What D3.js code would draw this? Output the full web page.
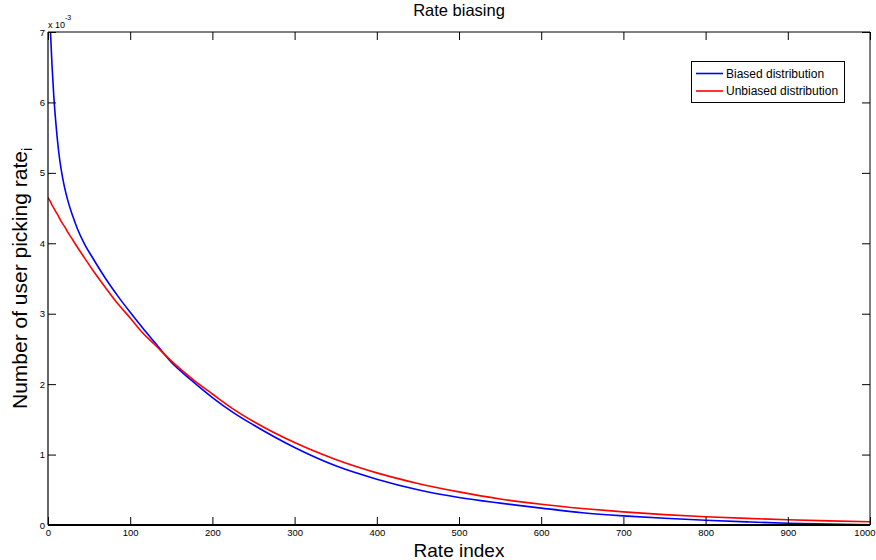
<!DOCTYPE html>
<html>
<head>
<meta charset="utf-8">
<script src="https://cdn.jsdelivr.net/npm/d3@7"></script>
<style>
  html, body { margin: 0; padding: 0; background: #fff; }
  svg { display: block; font-family: "Liberation Sans", Arial, Helvetica, sans-serif; }
</style>
</head>
<body>
<svg id="chart" width="876" height="560"></svg>
<script>
// ---- data (values in units of 1e-3) ----
const rateIndex = [0, 1, 2, 3, 5, 7, 10, 13, 16, 20, 25, 30, 36, 44, 55, 70, 85, 100, 115, 130, 150, 175, 200, 225, 250,
                   300, 350, 400, 450, 500, 550, 600, 650, 700, 750, 800, 850, 900, 950, 1000];
const biased = [8.6, 7.7, 7.3, 7.0, 6.5, 6.1, 5.65, 5.3, 5.05, 4.8, 4.57, 4.39, 4.2, 4.0, 3.78, 3.5, 3.25, 3.02, 2.8, 2.59,
                2.31, 2.05, 1.81, 1.6, 1.42, 1.1, 0.84, 0.65, 0.5, 0.39, 0.31, 0.24, 0.175, 0.13, 0.095, 0.068, 0.045, 0.025, 0.012, 0.004];
const unbiased = [4.65, 4.63, 4.61, 4.59, 4.54, 4.5, 4.44, 4.38, 4.31, 4.24, 4.14, 4.05, 3.94, 3.8, 3.61, 3.37, 3.14, 2.94, 2.73, 2.56,
                  2.33, 2.08, 1.86, 1.65, 1.47, 1.17, 0.93, 0.74, 0.59, 0.47, 0.37, 0.295, 0.235, 0.186, 0.148, 0.118, 0.094, 0.074, 0.059, 0.047];
const xTicks = [0, 100, 200, 300, 400, 500, 600, 700, 800, 900, 1000];
const yTicks = [0, 1, 2, 3, 4, 5, 6, 7];
const seriesNames = ["Biased distribution", "Unbiased distribution"];
const seriesColors = ["#0000ff", "#ff0000"];
const titleText = "Rate biasing";
const xLabelText = "Rate index";
const yLabelText = "Number of user picking rate";
const yLabelSub = "i";

// ---- layout ----
const svg = d3.select("#chart");
const L = 48, R = 870, T = 32, B = 525;
const x = d3.scaleLinear().domain([0, 1000]).range([L, R]);
const y = d3.scaleLinear().domain([0, 7]).range([B, T]);

const defs = svg.append("defs");
defs.append("clipPath").attr("id", "plotclip")
  .append("rect").attr("x", L).attr("y", T).attr("width", R - L).attr("height", B - T);

// series
const series = [biased, unbiased];
const line = d3.line().x(d => x(d[0])).y(d => y(d[1])).curve(d3.curveMonotoneX);
const g = svg.append("g").attr("clip-path", "url(#plotclip)");
series.forEach((vals, i) => {
  g.append("path")
    .datum(rateIndex.map((r, k) => [r, vals[k]]))
    .attr("fill", "none")
    .attr("stroke", seriesColors[i])
    .attr("stroke-width", 1.6)
    .attr("d", line);
});

// axes (MATLAB style box with inward ticks)
const tickLen = 8;
const axBottom = d3.axisBottom(x).tickValues(xTicks).tickSize(-tickLen).tickPadding(4).tickFormat(d3.format("d"));
const axTop = d3.axisTop(x).tickValues(xTicks).tickSize(-tickLen).tickFormat("");
const axLeft = d3.axisLeft(y).tickValues(yTicks).tickSize(-tickLen).tickPadding(3).tickFormat(d3.format("d"));
const axRight = d3.axisRight(y).tickValues(yTicks).tickSize(-tickLen).tickFormat("");

function style(sel) {
  sel.select(".domain").remove();
  sel.selectAll(".tick line").attr("stroke", "#000").attr("stroke-width", 1);
  sel.selectAll(".tick text").attr("fill", "#000").style("font-size", "9.5px");
}
const gb = svg.append("g").attr("transform", `translate(0,${B})`).call(axBottom).call(style);
// keep the last label inside the window
gb.selectAll(".tick text").filter(d => d === 1000).attr("text-anchor", "end").attr("x", 875 - R);
svg.append("g").attr("transform", `translate(0,${T})`).call(axTop).call(style);
svg.append("g").attr("transform", `translate(${L},0)`).call(axLeft).call(style);
svg.append("g").attr("transform", `translate(${R},0)`).call(axRight).call(style);

// box
svg.append("line").attr("x1", L).attr("x2", R).attr("y1", T).attr("y2", T).attr("stroke", "#000").attr("stroke-width", 1);
svg.append("line").attr("x1", R).attr("x2", R).attr("y1", T).attr("y2", B).attr("stroke", "#000").attr("stroke-width", 1);
svg.append("line").attr("x1", L).attr("x2", L).attr("y1", T).attr("y2", B).attr("stroke", "#000").attr("stroke-width", 1.2);
svg.append("line").attr("x1", L).attr("x2", R).attr("y1", B).attr("y2", B).attr("stroke", "#000").attr("stroke-width", 2);

// exponent label
const ex = svg.append("text").attr("x", L).attr("y", 28).style("font-size", "9px").attr("fill", "#000");
ex.append("tspan").text("x 10");
ex.append("tspan").attr("dy", -8).style("font-size", "7px").text("-3");

// title
svg.append("text").attr("x", (L + R) / 2).attr("y", 16).attr("text-anchor", "middle")
  .style("font-size", "16.5px").attr("fill", "#000").text(titleText);

// x label
svg.append("text").attr("x", (L + R) / 2).attr("y", 557).attr("text-anchor", "middle")
  .style("font-size", "19px").attr("fill", "#000").text(xLabelText);

// y label
const yl = svg.append("text").attr("transform", `translate(27,${(T + B) / 2}) rotate(-90)`)
  .attr("text-anchor", "middle").style("font-size", "21px").attr("fill", "#000");
yl.append("tspan").text(yLabelText);
yl.append("tspan").attr("dy", 5).style("font-size", "14px").text(yLabelSub);

// legend
const lg = svg.append("g");
lg.append("rect").attr("x", 691.5).attr("y", 61.5).attr("width", 153).attr("height", 41)
  .attr("fill", "#fff").attr("stroke", "#000").attr("stroke-width", 1);
seriesNames.forEach((name, i) => {
  const yy = 73.5 + i * 17.5;
  lg.append("line").attr("x1", 696).attr("x2", 723).attr("y1", yy).attr("y2", yy)
    .attr("stroke", seriesColors[i]).attr("stroke-width", 1.6);
  lg.append("text").attr("x", 726).attr("y", yy + 4.3).style("font-size", "12px").attr("fill", "#000").text(name);
});
</script>
</body>
</html>
